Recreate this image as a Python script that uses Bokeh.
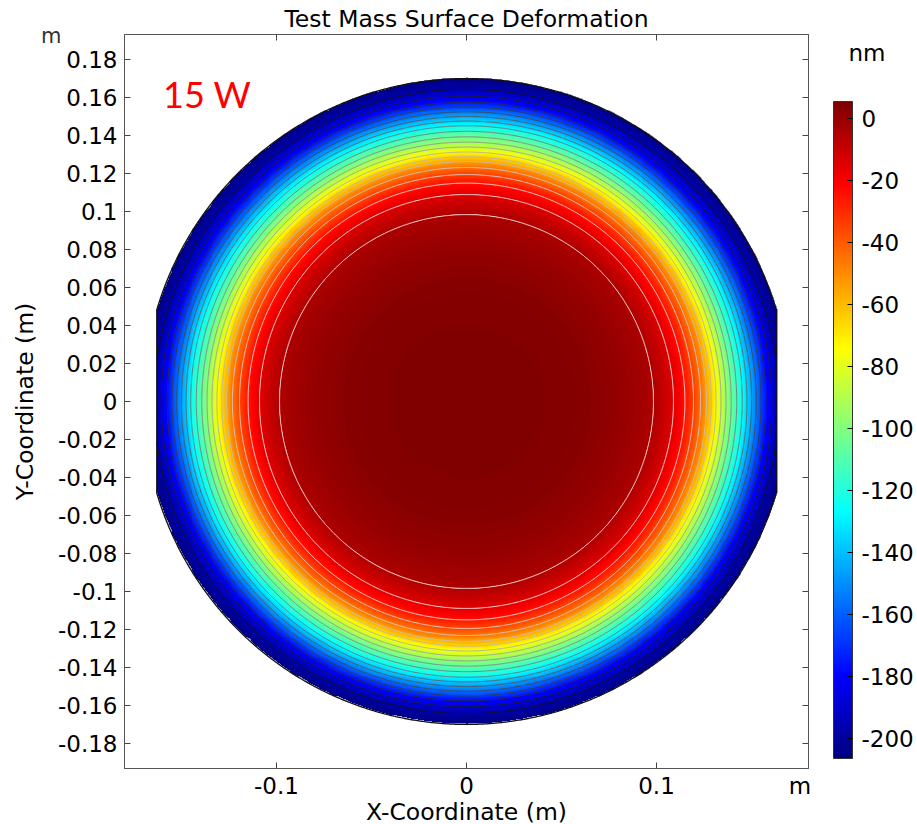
import numpy as np
from bokeh.plotting import figure
from bokeh.models import (LinearColorMapper, ColorBar, FixedTicker, LinearAxis,
                          Label, Range1d, AllLabels)
from bokeh.embed import file_html
from bokeh.resources import INLINE

# ---------------- data ----------------
TITLE = "Test Mass Surface Deformation"
X_LABEL = "X-Coordinate (m)"
Y_LABEL = "Y-Coordinate (m)"
POWER_LABEL = "15 W"
COLORBAR_UNIT = "nm"
AXIS_UNIT = "m"

RADIUS_M = 0.17          # test-mass radius
FLAT_HALF_X = 0.163      # position of the side flats

# radial deformation profile (radius in m, deformation in nm)
PROFILE_R = [0.0, 0.03, 0.06, 0.08, 0.09, 0.0985, 0.109, 0.115, 0.1195, 0.125,
             0.131, 0.138, 0.1455, 0.152, 0.158, 0.1635, 0.1705]
PROFILE_NM = [5.4, 5.1, 3.6, 0.8, -1.6, -4.7, -14.8, -24.9, -35.0, -50.0,
              -74.0, -101.0, -127.0, -154.0, -178.0, -195.0, -206.5]

COLOR_LOW = -206.5
COLOR_HIGH = 5.4
N_CONTOURS = 20

X_TICKS = [-0.1, 0.0, 0.1]
X_TICK_LABELS = ["-0.1", "0", "0.1"]
X_UNIT_POS = 0.1755
Y_TICKS = [-0.18, -0.16, -0.14, -0.12, -0.1, -0.08, -0.06, -0.04, -0.02, 0.0,
           0.02, 0.04, 0.06, 0.08, 0.1, 0.12, 0.14, 0.16, 0.18]
Y_TICK_LABELS = ["-0.18", "-0.16", "-0.14", "-0.12", "-0.1", "-0.08", "-0.06",
                 "-0.04", "-0.02", "0", "0.02", "0.04", "0.06", "0.08", "0.1",
                 "0.12", "0.14", "0.16", "0.18"]
Y_UNIT_POS = 0.1922
CB_UNIT_POS = 0.1832
CB_TICKS = [0, -20, -40, -60, -80, -100, -120, -140, -160, -180, -200]
CB_TICK_LABELS = ["0", "-20", "-40", "-60", "-80", "-100", "-120", "-140", "-160",
                  "-180", "-200"]

FONT = "DejaVu Sans"
TICK_FS = "23px"
LABEL_FS = "23.5px"
EDGE = "#555555"
TICK_COLOR = "#444444"


def jet(n):
    t = np.linspace(0, 1, n)
    r = np.clip(1.5 - np.abs(4 * t - 3), 0, 1)
    g = np.clip(1.5 - np.abs(4 * t - 2), 0, 1)
    b = np.clip(1.5 - np.abs(4 * t - 1), 0, 1)
    return ["#%02x%02x%02x" % (int(round(255 * a)), int(round(255 * c)), int(round(255 * d)))
            for a, c, d in zip(r, g, b)]


mapper = LinearColorMapper(palette=jet(256), low=COLOR_LOW, high=COLOR_HIGH,
                           nan_color=(0, 0, 0, 0))

# field on a grid built from the radial profile
half = PROFILE_R[-1]
n = 681
xs = np.linspace(-half, half, n)
ys = np.linspace(-half, half, n)
XX, YY = np.meshgrid(xs, ys)
RR = np.hypot(XX, YY)
Z = np.interp(RR, PROFILE_R, PROFILE_NM)
Z[(RR > RADIUS_M) | (np.abs(XX) > FLAT_HALF_X)] = np.nan

p = figure(frame_width=684, frame_height=734,
           x_range=Range1d(-0.18, 0.18), y_range=Range1d(-0.1932, 0.1932),
           output_backend="svg", toolbar_location=None,
           min_border_left=124, min_border_right=109,
           min_border_top=33, min_border_bottom=57,
           title=TITLE)
p.grid.visible = False
p.outline_line_color = EDGE
p.outline_line_width = 1
p.title.align = "center"
p.title.offset = -4
p.title.standoff = 4
p.title.text_font = FONT
p.title.text_font_size = LABEL_FS
p.title.text_font_style = "normal"
p.title.text_color = "#000000"

p.image(image=[Z], x=-half, y=-half, dw=2 * half, dh=2 * half, color_mapper=mapper)

levels = list(np.linspace(COLOR_LOW, COLOR_HIGH, N_CONTOURS + 2)[1:-1])
grays = []
for i in range(N_CONTOURS):
    g = int(round(20 + 235 * i / (N_CONTOURS - 1)))
    grays.append("#%02x%02x%02x" % (g, g, g))
p.contour(xs, ys, Z, levels=levels, line_color=grays, line_width=1, line_alpha=0.9)

theta = np.linspace(0, 2 * np.pi, 1441)
bx = np.clip(RADIUS_M * np.cos(theta), -FLAT_HALF_X, FLAT_HALF_X)
by = RADIUS_M * np.sin(theta)
p.line(bx, by, line_color="#111111", line_width=1.3)


def tick_only_axis(ticks):
    return LinearAxis(ticker=FixedTicker(ticks=ticks), major_label_text_font_size="1px",
                      major_label_text_alpha=0, major_label_standoff=0,
                      major_tick_in=6, major_tick_out=0, minor_tick_line_color=None,
                      major_tick_line_color=TICK_COLOR, axis_line_color=EDGE)


def label_axis(ticks, labels, fs, color, standoff, **kw):
    return LinearAxis(ticker=FixedTicker(ticks=ticks),
                      major_label_overrides={t: l for t, l in zip(ticks, labels)},
                      major_label_text_font=FONT, major_label_text_font_size=fs,
                      major_label_text_color=color, major_label_standoff=standoff,
                      major_tick_line_color=None, minor_tick_line_color=None,
                      axis_line_color=None, axis_label_text_font=FONT,
                      axis_label_text_font_size=LABEL_FS,
                      axis_label_text_font_style="normal",
                      axis_label_text_color="#000000", **kw)


# bottom: tick marks on the frame edge, labels (incl. unit) on a second axis
xb = p.xaxis[0]
xb.ticker = FixedTicker(ticks=X_TICKS)
xb.major_label_text_font_size = "1px"
xb.major_label_text_alpha = 0
xb.major_label_standoff = 0
xb.major_tick_in = 6
xb.major_tick_out = 0
xb.minor_tick_line_color = None
xb.major_tick_line_color = TICK_COLOR
xb.axis_line_color = EDGE

p.add_layout(label_axis(X_TICKS + [X_UNIT_POS], X_TICK_LABELS + [AXIS_UNIT], TICK_FS,
                        "#000000", -2, axis_label=X_LABEL, axis_label_standoff=-4),
             "below")

# left: main tick labels, then an outer axis carrying the unit and the title
yl = p.yaxis[0]
yl.ticker = FixedTicker(ticks=Y_TICKS)
yl.major_label_overrides = {t: l for t, l in zip(Y_TICKS, Y_TICK_LABELS)}
yl.minor_tick_line_color = None
yl.major_tick_in = 6
yl.major_tick_out = 0
yl.major_tick_line_color = TICK_COLOR
yl.axis_line_color = EDGE
yl.major_label_text_font = FONT
yl.major_label_text_font_size = TICK_FS
yl.major_label_text_color = "#000000"
yl.major_label_standoff = 7

p.add_layout(label_axis([Y_UNIT_POS], [AXIS_UNIT], "21px", "#333333", -13,
                        axis_label=Y_LABEL, axis_label_standoff=-1), "left")

p.add_layout(tick_only_axis(X_TICKS), "above")
p.add_layout(tick_only_axis(Y_TICKS), "right")
p.add_layout(label_axis([CB_UNIT_POS], [COLORBAR_UNIT], TICK_FS, "#000000", 34), "right")

cb = ColorBar(color_mapper=mapper, ticker=FixedTicker(ticks=CB_TICKS),
              major_label_overrides={t: l for t, l in zip(CB_TICKS, CB_TICK_LABELS)},
              orientation="vertical", location=(699, 0), width=19, height=657,
              padding=10, major_label_text_font=FONT, major_label_text_font_size=TICK_FS,
              major_label_text_color="#000000", label_standoff=9,
              major_label_policy=AllLabels(),
              major_tick_in=5, major_tick_out=0, major_tick_line_color="#000000",
              minor_tick_line_color=None, bar_line_color="#333333",
              background_fill_alpha=0, border_line_color=None)
p.add_layout(cb)

p.add_layout(Label(x=-0.1597, y=0.1621, text=POWER_LABEL, text_align="left",
                   text_baseline="middle", text_font="Lato", text_font_size="36px",
                   text_color="#ff0000"))

open("out.html", "w").write(file_html(p, INLINE))
